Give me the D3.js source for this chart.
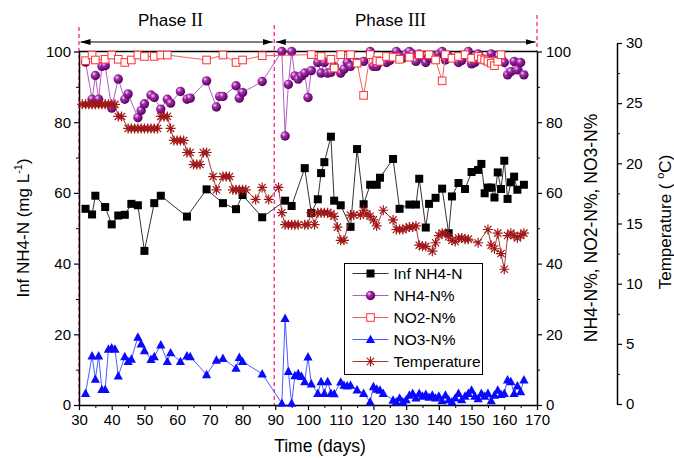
<!DOCTYPE html>
<html>
<head>
<meta charset="utf-8">
<script src="https://cdn.jsdelivr.net/npm/d3@7"></script>
<style>
  body { margin: 0; background: #fff; }
  svg { font-family: "Liberation Sans", Arial, sans-serif; }
</style>
</head>
<body>
<div id="chart"></div>
<script>
// [day, value]
const infNH4 = [[32,55.5],[34,53.9],[35,59.2],[38,56],[40,51.1],[42,53.6],[44,53.8],[46,56.9],[48,56.5],[50,43.6],[53,57.1],[55,59.2],[63,53.3],[69,61],[74,57.1],[78,55.4],[80,59.4],[86,53.1],[93,57.8],[95,56.3],[99,67],[101,54.3],[103,58.2],[104,65.6],[105,68.7],[107,75.9],[108,57.8],[110,56.5],[113,50.4],[115,72.4],[117,56.8],[119,62.3],[121,62.3],[122,64.3],[126,69.6],[128,55.5],[131,56.7],[133,56.7],[134,64],[136,50.2],[137,56.9],[139,58.6],[141,61.2],[143,48.6],[144,59],[146,62.8],[148,61.1],[150,65.9],[152,66.5],[153,68.2],[154,59.9],[155,61.5],[156,61.5],[157,58.7],[158,65.8],[159,61.1],[160,69.1],[161,58.3],[162,63],[163,64.6],[164,60.9],[166,62.3]];

const nh4Pct = [[32,97],[34,86.5],[35,93.2],[36,86.5],[37,95.8],[38,96],[40,84],[42,92.2],[44,86.5],[45,88],[48,81.3],[49,83.3],[50,85.2],[52,87.7],[53,87],[55,83.7],[57,86.5],[58,85.4],[61,88.7],[63,86.5],[64,86.8],[69,91.7],[72,84.3],[73,87.3],[74,87.3],[78,90.3],[79,86.8],[80,88.4],[86,91.5],[92,100],[93,76.1],[94,90.7],[95,100],[96,93.1],[97,92.2],[98,93.1],[99,93.9],[100,87],[101,94.6],[103,96.9],[104,93.9],[105,96.9],[106,93.9],[107,94.1],[108,95.8],[110,93.9],[111,95],[112,96.9],[113,95.8],[115,96.9],[117,97.2],[119,100],[120,95.8],[121,95.8],[122,97.2],[124,96.9],[125,97.5],[127,100],[128,98.6],[129,98.1],[130,99.3],[131,100],[132,99.3],[133,97.2],[134,99.3],[135,98.1],[136,96.9],[137,98.1],[138,98.1],[139,98.6],[140,99.3],[141,100],[142,97.6],[143,98.6],[145,98.1],[146,96.9],[147,97.5],[149,100],[150,96.5],[151,96.9],[152,99.3],[153,98.1],[154,97.6],[156,99.3],[157,97.5],[159,98.1],[160,96.9],[161,93.4],[162,94.3],[163,97.2],[164,94.8],[165,96.9],[166,93.4]];

const no2Pct = [[32,97.4],[34,99],[35,97.6],[38,97.8],[40,99],[42,97.8],[44,96.9],[46,97.6],[48,99],[50,98.6],[53,98.6],[55,99],[57,99],[69,97.6],[74,99],[78,96.9],[80,97.6],[86,98.8],[101,99.1],[104,98.6],[107,97.8],[108,95.3],[110,99.1],[113,99.1],[115,96.7],[117,87.6],[119,99.1],[121,97.4],[122,97.2],[124,98.6],[126,98.4],[128,97.8],[131,98.4],[134,99.1],[137,99.1],[139,97.6],[141,91.7],[142,99.1],[144,98.1],[146,98.6],[148,99.1],[150,98.1],[152,98.6],[153,97.9],[154,97.6],[155,97.2],[156,96.7],[157,96],[158,97.2],[159,99.1]];

const no3Pct = [[32,3.3],[34,13.9],[35,7.3],[36,13.9],[37,4.4],[38,4.4],[39,15.8],[40,16.2],[41,15.8],[42,8.2],[44,13.7],[45,12.3],[46,13],[48,19.2],[49,17.3],[50,15.4],[52,12.9],[53,13.7],[55,17],[57,12.3],[58,14.8],[61,12.3],[63,13.9],[64,13.7],[69,8.6],[72,12.7],[74,13.2],[78,10.4],[79,13.5],[80,12.3],[86,8.8],[92,0.5],[93,24.5],[94,9.5],[95,0.5],[96,8.3],[97,8.9],[98,8.1],[99,6.6],[100,13.6],[101,6],[103,3.3],[104,6.6],[105,3.3],[106,6.6],[107,3.3],[108,3.2],[110,6.5],[111,5.6],[112,5.4],[113,5.6],[115,4.3],[117,3.3],[119,0.9],[120,5.2],[121,4.5],[122,4.2],[123,3.3],[126,1.4],[127,0.9],[128,2],[129,0.9],[130,1.5],[131,2.8],[132,3.3],[133,2],[134,3.3],[135,2.5],[136,3],[137,2.2],[138,2.8],[139,2],[140,2.5],[141,1.2],[142,2.8],[143,1.5],[144,0.9],[145,2],[146,3.3],[147,1.5],[148,2.5],[149,3.3],[150,4.2],[151,2.5],[152,1.8],[153,3.3],[154,2.5],[155,3.3],[156,1.2],[157,2.8],[158,4.2],[159,3],[160,3.3],[161,7.1],[162,6.6],[163,3.3],[164,5.4],[165,3.8],[166,7.1]];

const temperature = [[31,24.9],[32,24.9],[33,24.9],[34,24.9],[35,24.9],[36,24.9],[37,24.9],[38,24.9],[39,24.9],[40,24.9],[41,24.9],[42,23.9],[43,23.9],[45,22.9],[46,22.9],[47,22.9],[48,22.9],[49,22.9],[50,22.9],[51,22.9],[52,22.9],[53,22.9],[54,22.9],[55,23.9],[56,23.9],[57,23.9],[58,22.9],[59,21.9],[60,21.9],[61,21.9],[62,21.9],[63,20.9],[64,20.9],[65,19.9],[66,19.9],[67,19.9],[68,20.9],[69,20.9],[71,18.9],[72,17.8],[74,18.9],[75,18.9],[76,18.9],[77,17.8],[78,17.8],[79,17.8],[80,17.8],[81,17.8],[84,17],[86,18],[88,17],[91,18],[92,15.9],[93,14.9],[94,14.9],[95,14.9],[96,14.9],[97,14.9],[99,14.9],[100,14.9],[101,15.9],[102,14.9],[103,15.9],[104,15.9],[105,15.9],[106,15.9],[107,15.8],[108,15.6],[109,14.7],[110,13.6],[111,13.6],[113,15.7],[114,15.7],[116,15.7],[117,16.1],[118,15.8],[119,15.6],[120,15.3],[121,14.8],[123,16.1],[126,15.3],[127,14.5],[128,14.5],[129,14.5],[130,14.6],[131,14.7],[132,14.7],[133,14.8],[134,13.2],[135,13.1],[136,13.1],[138,12.7],[139,13.4],[140,14],[141,14.2],[142,14.2],[143,13.9],[144,13.6],[145,13.5],[146,13.8],[147,13.8],[148,13.7],[149,13.7],[152,13.4],[155,14.5],[156,13.2],[157,12.9],[158,14.2],[159,12.5],[160,11.2],[161,14],[162,14.2],[163,14],[164,13.8],[165,14],[166,14.2]];

const xTicks = [30,40,50,60,70,80,90,100,110,120,130,140,150,160,170];
const pctTicks = [0,20,40,60,80,100];
const tempTicks = [0,5,10,15,20,25,30];
const phaseBounds = [30, 89.7, 170];
const phaseNames = ["II", "III"];
const legendNames = ["Inf NH4-N", "NH4-N%", "NO2-N%", "NO3-N%", "Temperature"];

const width = 674;
const height = 458;

const svg = d3.select('#chart')
  .append('svg')
  .attr('width', width)
  .attr('height', height);

const x = d3.scaleLinear().domain([30, 170]).range([79, 537]);
const y = d3.scaleLinear().domain([0, 100]).range([405, 51.5]);
const yT = d3.scaleLinear().domain([0, 30]).range([404, 43]);

// sphere gradient
const defs = svg.append('defs');
const grad = defs.append('radialGradient').attr('id', 'sph')
  .attr('cx', '35%').attr('cy', '32%').attr('r', '70%');
grad.append('stop').attr('offset', '0%').attr('stop-color', '#f4d4f6');
grad.append('stop').attr('offset', '35%').attr('stop-color', '#a22aa8');
grad.append('stop').attr('offset', '100%').attr('stop-color', '#52005a');

defs.append('marker').attr('id', 'arr')
  .attr('viewBox', '0 0 10 6').attr('refX', 10).attr('refY', 3)
  .attr('markerWidth', 10).attr('markerHeight', 6)
  .attr('markerUnits', 'userSpaceOnUse')
  .attr('orient', 'auto-start-reverse')
  .append('path').attr('d', 'M0,0L10,3L0,6Z').attr('fill', '#000');

// pink dashed phase boundaries
const dashTop = [27, 25, 15];
const dashBot = [405, 405, 51.5];
svg.append('g').selectAll('line')
  .data(phaseBounds)
  .join('line')
    .attr('x1', d => x(d)).attr('x2', d => x(d))
    .attr('y1', (d, i) => dashTop[i]).attr('y2', (d, i) => dashBot[i])
    .attr('stroke', '#ff3399').attr('stroke-width', 1.4)
    .attr('stroke-dasharray', '4,3');

// phase arrows and labels
svg.append('g').selectAll('line')
  .data(phaseNames)
  .join('line')
    .attr('x1', (d, i) => x(phaseBounds[i]) + 1.5)
    .attr('x2', (d, i) => x(phaseBounds[i + 1]) - 1.5)
    .attr('y1', 42).attr('y2', 42)
    .attr('stroke', '#000').attr('stroke-width', 1.2)
    .attr('marker-start', 'url(#arr)').attr('marker-end', 'url(#arr)');

const phaseText = svg.append('g').selectAll('text')
  .data(phaseNames)
  .join('text')
    .attr('x', (d, i) => (i == 0 ? 170.5 : 390.5))
    .attr('y', 26)
    .attr('text-anchor', 'middle')
    .attr('font-size', '17px');
phaseText.append('tspan').text('Phase ');
phaseText.append('tspan').attr('font-family', '"Liberation Serif", "Times New Roman", serif')
  .attr('font-size', '18px').text(d => d);

// frame top
svg.append('line').attr('x1', 79).attr('x2', 537).attr('y1', 51.5).attr('y2', 51.5)
  .attr('stroke', '#000').attr('stroke-width', 1.5);

// axes
function styleAxis(g) {
  g.attr('font-size', '15px').attr('font-family', '"Liberation Sans", Arial, sans-serif');
  g.select('.domain').attr('stroke-width', 1.5);
  g.selectAll('.tick line').attr('stroke-width', 1.2);
  g.selectAll('.tick text').attr('fill', '#000');
}

svg.append('g').attr('transform', 'translate(0,405)')
  .call(d3.axisBottom(x).tickValues(xTicks).tickSize(5).tickPadding(4).tickSizeOuter(0))
  .call(styleAxis);
svg.append('g').attr('transform', 'translate(0,405)')
  .call(d3.axisBottom(x).tickValues(xTicks.slice(0, -1).map(d => d + 5)).tickSize(3).tickFormat('').tickSizeOuter(0))
  .call(g => g.select('.domain').remove());

svg.append('g').attr('transform', 'translate(79,0)')
  .call(d3.axisLeft(y).tickValues(pctTicks).tickSize(5).tickPadding(3).tickSizeOuter(0))
  .call(styleAxis);
svg.append('g').attr('transform', 'translate(79,0)')
  .call(d3.axisLeft(y).tickValues(pctTicks.slice(0, -1).map(d => d + 10)).tickSize(3).tickFormat('').tickSizeOuter(0))
  .call(g => g.select('.domain').remove());

svg.append('g').attr('transform', 'translate(537,0)')
  .call(d3.axisRight(y).tickValues(pctTicks).tickSize(5).tickPadding(4).tickSizeOuter(0))
  .call(styleAxis);
svg.append('g').attr('transform', 'translate(537,0)')
  .call(d3.axisRight(y).tickValues(pctTicks.slice(0, -1).map(d => d + 10)).tickSize(3).tickFormat('').tickSizeOuter(0))
  .call(g => g.select('.domain').remove());

svg.append('g').attr('transform', 'translate(617,0)')
  .call(d3.axisRight(yT).tickValues(tempTicks).tickSize(5).tickPadding(4).tickSizeOuter(0))
  .call(styleAxis);
svg.append('g').attr('transform', 'translate(617,0)')
  .call(d3.axisRight(yT).tickValues(tempTicks.slice(0, -1).map(d => d + 2.5)).tickSize(3).tickFormat('').tickSizeOuter(0))
  .call(g => g.select('.domain').remove());

// axis titles
svg.append('text').attr('x', 320).attr('y', 452).attr('text-anchor', 'middle')
  .attr('font-size', '17.5px').text('Time (days)');

const yl = svg.append('text').attr('transform', 'translate(29,228) rotate(-90)')
  .attr('text-anchor', 'middle').attr('font-size', '17px');
yl.append('tspan').text('Inf NH4-N  (mg L');
yl.append('tspan').attr('font-size', '11px').attr('dy', -7).text('-1');
yl.append('tspan').attr('dy', 7).text(')');

svg.append('text').attr('transform', 'translate(597,228) rotate(-90)')
  .attr('text-anchor', 'middle').attr('font-size', '17.5px')
  .text('NH4-N%, NO2-N%, NO3-N%');

const tl = svg.append('text').attr('transform', 'translate(671,222) rotate(-90)')
  .attr('text-anchor', 'middle').attr('font-size', '17px');
tl.append('tspan').text('Temperature ( ');
tl.append('tspan').attr('font-size', '11px').attr('dy', -7).text('o');
tl.append('tspan').attr('dy', 7).text('C)');

// series
const lineL = d3.line().x(d => x(d[0])).y(d => y(d[1]));
const lineT = d3.line().x(d => x(d[0])).y(d => yT(d[1]));

const starPath = 'M-5,0H5M0,-5V5M-3.6,-3.6L3.6,3.6M-3.6,3.6L3.6,-3.6';

function drawMarker(sel, kind) {
  if (kind == 0) {
    sel.append('rect').attr('x', -4).attr('y', -4).attr('width', 8).attr('height', 8).attr('fill', '#000');
  } else if (kind == 1) {
    sel.append('circle').attr('r', 4.7).attr('fill', 'url(#sph)');
  } else if (kind == 2) {
    sel.append('rect').attr('x', -3.8).attr('y', -3.8).attr('width', 7.6).attr('height', 7.6)
      .attr('fill', '#fff').attr('stroke', '#ff3030').attr('stroke-width', 1);
  } else if (kind == 3) {
    sel.append('path').attr('d', 'M0,-4.8L4.6,3.6L-4.6,3.6Z').attr('fill', '#0a0aff');
  } else {
    sel.append('path').attr('d', starPath).attr('stroke', '#a01818').attr('stroke-width', 1.2);
    sel.append('circle').attr('r', 1.3).attr('fill', '#a01818');
  }
}

const seriesData = [infNH4, nh4Pct, no2Pct, no3Pct, temperature];
const lineColors = ['#333333', '#b55cc4', '#ff5a5a', '#4a5cff', '#a33a3a'];

seriesData.forEach((data, k) => {
  const yy = k == 4 ? yT : y;
  const ln = k == 4 ? lineT : lineL;
  svg.append('path').datum(data)
    .attr('fill', 'none').attr('stroke', lineColors[k]).attr('stroke-width', 1)
    .attr('d', ln);
  svg.append('g').selectAll('g')
    .data(data)
    .join('g')
      .attr('transform', d => `translate(${x(d[0])},${yy(d[1])})`)
      .each(function () { drawMarker(d3.select(this), k); });
});

// legend
const lg = svg.append('g').attr('transform', 'translate(344.5,263.5)');
lg.append('rect').attr('width', 138).attr('height', 111)
  .attr('fill', '#fff').attr('stroke', '#000').attr('stroke-width', 1);
const item = lg.selectAll('g.item')
  .data(legendNames)
  .join('g')
    .attr('class', 'item')
    .attr('transform', (d, i) => `translate(0,${10 + i * 22})`);
item.append('line').attr('x1', 8).attr('x2', 44).attr('y1', 0).attr('y2', 0)
  .attr('stroke', (d, i) => lineColors[i]).attr('stroke-width', 1);
item.each(function (d, i) {
  drawMarker(d3.select(this).append('g').attr('transform', 'translate(26,0)'), i);
});
item.append('text').attr('x', 49).attr('y', 5.5).attr('font-size', '15.5px').text(d => d);
</script>
</body>
</html>
